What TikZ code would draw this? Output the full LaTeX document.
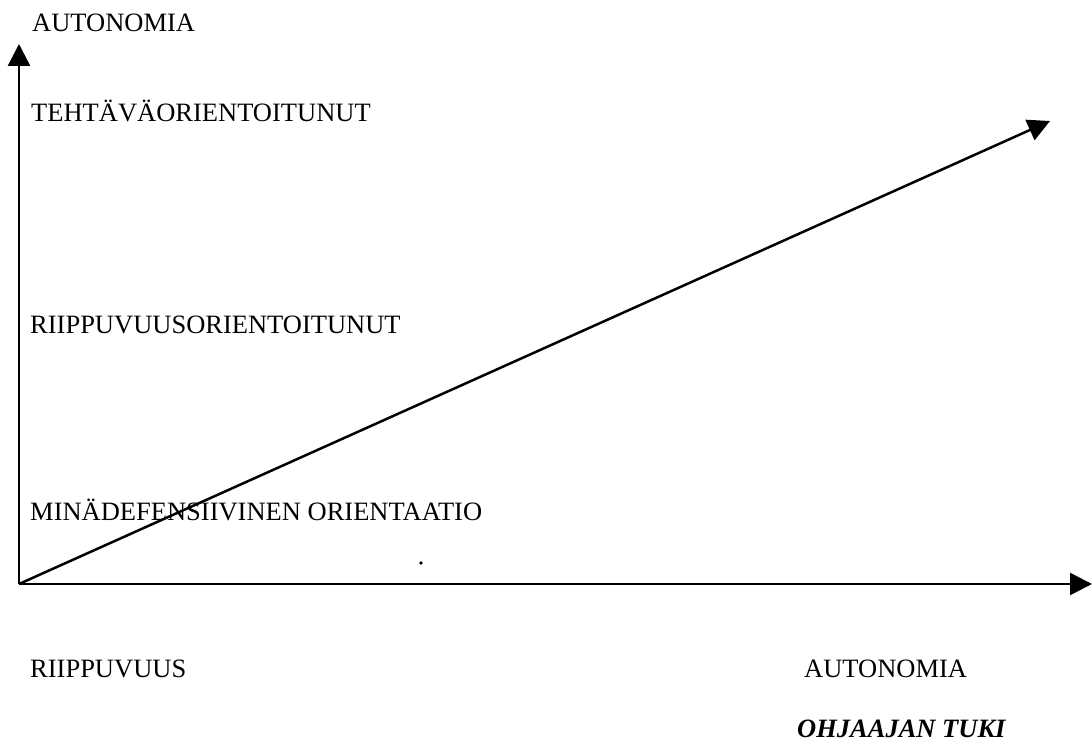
\documentclass[tikz,border=0pt]{standalone}
\usepackage{fontspec}
\setmainfont{Liberation Serif}
\usetikzlibrary{arrows.meta}
\begin{document}
\begin{tikzpicture}[x=1pt,y=-1pt,
  axis/.style={line width=2.5pt,-{Triangle[length=22pt,width=22pt]}},
  lbl/.style={anchor=base west,inner sep=0pt,font=\fontsize{26.5}{30}\selectfont},
  lblbi/.style={lbl,font=\fontsize{26.5}{30}\selectfont\bfseries\itshape}]
\useasboundingbox (0,0) rectangle (1092,743);
\coordinate (O) at (19,584);
\coordinate (Ytip) at (19,44);
\coordinate (Xtip) at (1092,584);
\coordinate (Dtip) at (1050,121);
\draw[axis] (O) -- (Ytip);
\draw[axis] (O) -- (Xtip);
\draw[axis] (O) -- (Dtip);
\node[lbl] (ytitle) at (32,32) {AUTONOMIA};
\node[lbl] (teht) at (31,122) {TEHTÄVÄORIENTOITUNUT};
\node[lbl] (riip) at (30,334) {RIIPPUVUUSORIENTOITUNUT};
\node[lbl] (mina) at (30,520) {MINÄDEFENSIIVINEN ORIENTAATIO};
\node[lbl] (xleft) at (30,677) {RIIPPUVUUS};
\node[lbl] (xright) at (804,677) {AUTONOMIA};
\node[lblbi] (xtitle) at (797,737) {OHJAAJAN TUKI};
\fill (421,563) circle (1.8);
\end{tikzpicture}
\end{document}
